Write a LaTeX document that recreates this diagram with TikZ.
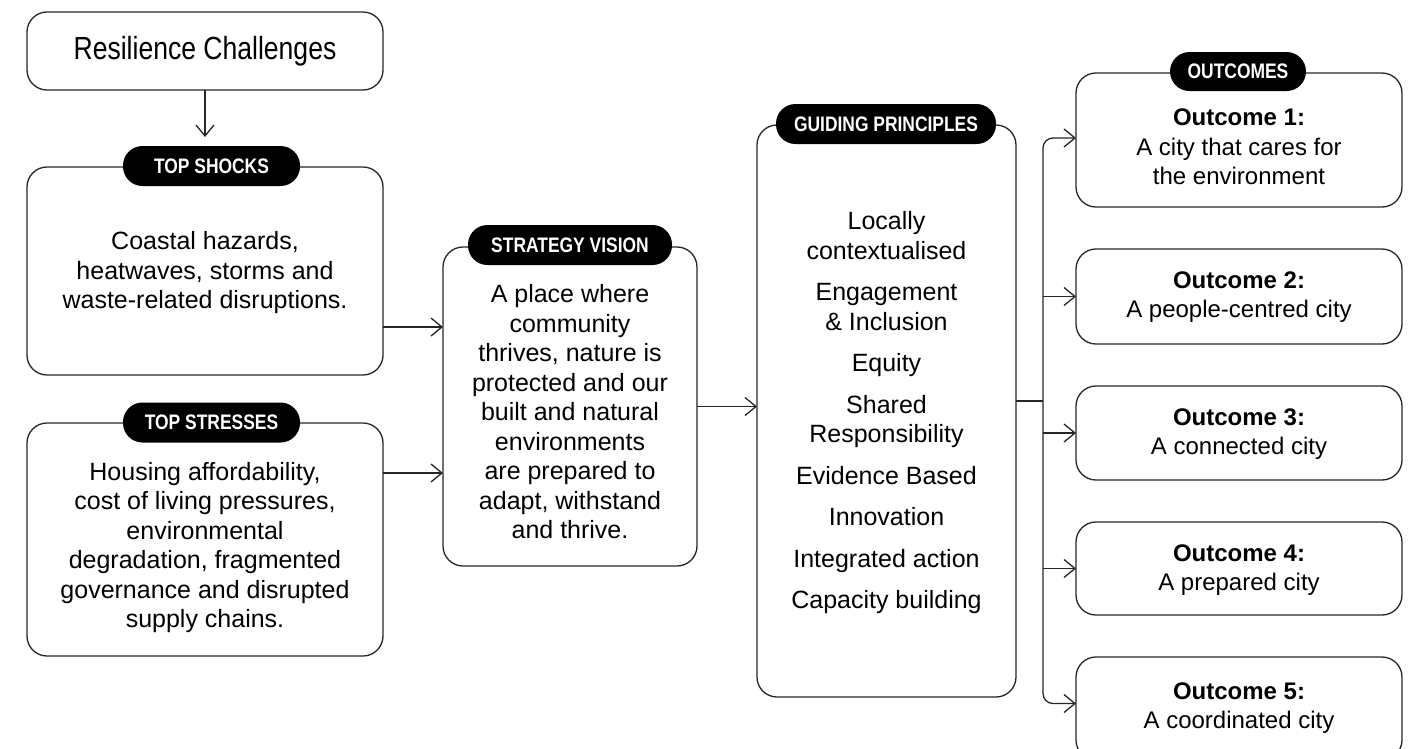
\documentclass[tikz,border=0pt]{standalone}
\usepackage{fontspec}
\setmainfont{Liberation Sans}
\newfontfamily\condfont[FakeStretch=0.83]{Liberation Sans}
\usetikzlibrary{arrows.meta,calc}
\begin{document}
\begin{tikzpicture}[x=1pt,y=-1pt,
  line width=1.3pt,
  box/.style={draw=black!85, rounded corners=20pt, inner sep=0pt, outer sep=0pt},
  pill/.style={fill=black, text=white, rounded corners=19.5pt, minimum height=40pt,
    inner sep=0pt, outer sep=0pt, font=\condfont\bfseries\fontsize{21}{24}\selectfont},
  body/.style={align=center, inner sep=0pt, font=\fontsize{25}{29.5}\selectfont},
  otext/.style={align=center, inner sep=0pt, font=\fontsize{24}{29.5}\selectfont},
  arr/.style={draw=black!85, -{Straight Barb[length=11pt,width=18pt]}},
  link/.style={draw=black!85}]

\useasboundingbox (0,0) rectangle (1413,748);
\clip (0,0) rectangle (1413,748);

% title
\node[box, minimum width=356, minimum height=78,
  font=\condfont\fontsize{32}{36}\selectfont] (rc) at (205,51) {Resilience Challenges};

% top shocks
\node[box, minimum width=356, minimum height=208] (shocks) at (205,271) {};
\node[pill, minimum width=177] (shpill) at (211.5,166) {TOP SHOCKS};
\node[body] (shtext) at (205,273) {Coastal hazards,\\heatwaves, storms and\\waste-related disruptions.};

% top stresses
\node[box, minimum width=356, minimum height=233] (stresses) at (205,539.5) {};
\node[pill, minimum width=177] (stpill) at (211.5,422.5) {TOP STRESSES};
\node[body] (sttext) at (205,547.5) {Housing affordability,\\cost of living pressures,\\environmental\\degradation, fragmented\\governance and disrupted\\supply chains.};

% strategy vision
\node[box, minimum width=254, minimum height=319] (sv) at (570,406.5) {};
\node[pill, minimum width=204] (svpill) at (570,245) {STRATEGY VISION};
\node[body] (svtext) at (570,412) {A place where\\community\\thrives, nature is\\protected and our\\built and natural\\environments\\are prepared to\\adapt, withstand\\and thrive.};

% guiding principles
\node[box, minimum width=259, minimum height=572] (gp) at (886.5,411) {};
\node[pill, minimum width=220] (gppill) at (886,124) {GUIDING PRINCIPLES};
\node[body] (gptext) at (886.5,413) {Locally\\contextualised\\[12pt]Engagement\\\&~Inclusion\\[12pt]Equity\\[12pt]Shared\\Responsibility\\[12pt]Evidence Based\\[12pt]Innovation\\[12pt]Integrated action\\[12pt]Capacity building};

% outcomes
\node[box, minimum width=326, minimum height=134] (o1) at (1239,140) {};
\node[pill, minimum width=136, minimum height=39] (opill) at (1238,71.5) {OUTCOMES};
\node[otext] (o1text) at (1239,147) {\textbf{Outcome 1:}\\A city that cares for\\the environment};

\node[box, minimum width=326, minimum height=95] (o2) at (1239,296.5) {};
\node[otext] (o2text) at (1239,297) {\textbf{Outcome 2:}\\A people-centred city};

\node[box, minimum width=326, minimum height=94] (o3) at (1239,433) {};
\node[otext] (o3text) at (1239,434) {\textbf{Outcome 3:}\\A connected city};

\node[box, minimum width=326, minimum height=93] (o4) at (1239,568.5) {};
\node[otext] (o4text) at (1239,570) {\textbf{Outcome 4:}\\A prepared city};

\node[box, minimum width=326, minimum height=103] (o5) at (1239,708.5) {};
\node[otext] (o5text) at (1239,708) {\textbf{Outcome 5:}\\A coordinated city};

% connectors
\draw[arr, shorten >=9pt] (rc.south) -- (rc.south |- shpill.north);

\coordinate (s1) at ([yshift=-56pt]shocks.east);
\draw[arr] (s1) -- (s1 -| sv.west);
\coordinate (s2) at ([yshift=66.5pt]stresses.east);
\draw[arr] (s2) -- (s2 -| sv.west);

\draw[arr] (sv.east) -- (sv.east -| gp.west);

\coordinate (g1) at ([yshift=10pt]gp.east);
\coordinate (bus) at (1043,401);
\draw[link] (g1) -- (bus);
\draw[arr, rounded corners=10pt] (bus) |- ([yshift=2pt]o1.west);
\coordinate (o5in) at ([yshift=5pt]o5.west);
\draw[arr, rounded corners=10pt] (bus) |- (o5in);
\draw[arr] (bus |- o2.west) -- (o2.west);
\draw[arr] (bus |- o3.west) -- (o3.west);
\draw[arr] (bus |- o4.west) -- (o4.west);
\end{tikzpicture}
\end{document}
